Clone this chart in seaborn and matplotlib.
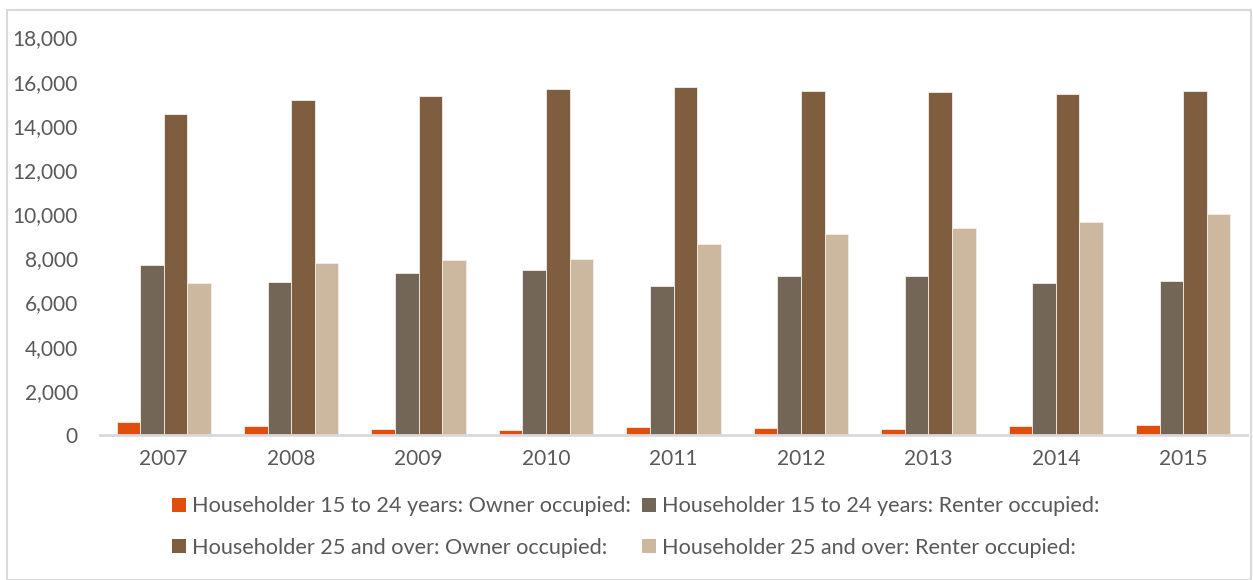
import pandas as pd
import numpy as np
import matplotlib.pyplot as plt
import seaborn as sns
from matplotlib.patches import Patch, Rectangle

# ── data ─────────────────────────────────────────────────────────────────────
years = ["2007", "2008", "2009", "2010", "2011", "2012", "2013", "2014", "2015"]
series = [
    "Householder 15 to 24 years: Owner occupied:",
    "Householder 15 to 24 years: Renter occupied:",
    "Householder 25 and over: Owner occupied:",
    "Householder 25 and over: Renter occupied:",
]
owner_15_24 = [590, 410, 260, 230, 360, 320, 280, 400, 450]
renter_15_24 = [7700, 6920, 7320, 7470, 6750, 7200, 7200, 6880, 6980]
owner_25 = [14540, 15170, 15360, 15670, 15770, 15580, 15530, 15440, 15580]
renter_25 = [6870, 7780, 7930, 7970, 8650, 9100, 9380, 9630, 10020]
colors = ["#E04E0B", "#736657", "#7E5E3E", "#CCB79F"]

df = pd.DataFrame({"year": years * 4,
                   "series": np.repeat(series, len(years)),
                   "value": owner_15_24 + renter_15_24 + owner_25 + renter_25})

# ── plot ─────────────────────────────────────────────────────────────────────
sns.set_style("white")
plt.rcParams["font.family"] = ["Lato", "DejaVu Sans"]
text_color = "#595959"

fig = plt.figure(figsize=(12.53, 5.80), dpi=100)
ax = fig.add_axes([100 / 1253, 1 - 435 / 580, 1147 / 1253, (435 - 37.5) / 580])

sns.barplot(data=df, x="year", y="value", hue="series", palette=colors,
            saturation=1, width=0.74, edgecolor="#F2EEE9", linewidth=0.6,
            legend=False, ax=ax)

ax.set_ylim(0, 18000)
ax.set_xlim(-0.5, 8.5)
ax.set_yticks(range(0, 18001, 2000))
ax.set_yticklabels([f"{v:,}" for v in range(0, 18001, 2000)])
ax.set_xlabel("")
ax.set_ylabel("")
for s in ["top", "right", "left"]:
    ax.spines[s].set_visible(False)
ax.spines["bottom"].set_color("#D9D9D9")
ax.spines["bottom"].set_linewidth(2)
ax.tick_params(axis="both", length=0, labelsize=15, labelcolor=text_color)
ax.tick_params(axis="y", pad=16)
ax.tick_params(axis="x", pad=10)

handles = [Patch(facecolor=c, edgecolor="none") for c in colors]
order = [0, 2, 1, 3]
fig.legend([handles[i] for i in order], [series[i] for i in order],
           loc="center", bbox_to_anchor=(636 / 1253, 1 - 527 / 580), ncol=2,
           frameon=False, fontsize=15.6, labelcolor=text_color,
           handlelength=0.62, handleheight=0.62, handletextpad=0.3,
           columnspacing=0.5, labelspacing=1.0)

fig.patches.append(Rectangle((7 / 1253, 0), 1244 / 1253, 570 / 580,
                             transform=fig.transFigure, fill=False,
                             edgecolor="#D9D9D9", linewidth=1.5))

plt.savefig("out.png", dpi=100)
